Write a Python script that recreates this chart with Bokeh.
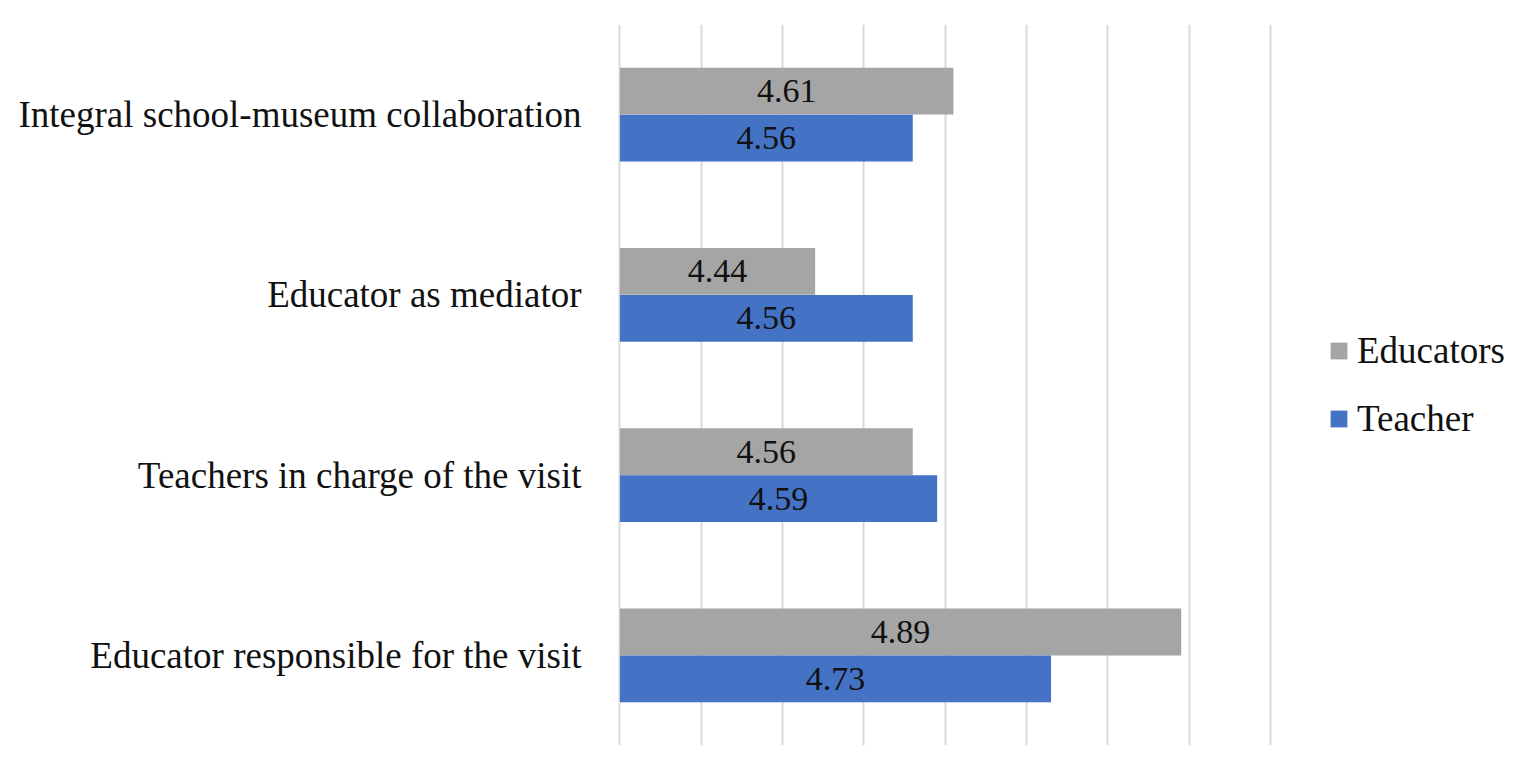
from bokeh.plotting import figure
from bokeh.models import ColumnDataSource, FixedTicker, Legend, LegendItem, FactorRange, Range1d
from bokeh.transform import dodge
from bokeh.core.properties import value
from bokeh.embed import file_html
from bokeh.resources import INLINE

categories = ["Integral school-museum collaboration", "Educator as mediator",
              "Teachers in charge of the visit", "Educator responsible for the visit"]
educators = [4.61, 4.44, 4.56, 4.89]
teacher = [4.56, 4.56, 4.59, 4.73]
x_start = 4.2
grid_ticks = [4.2, 4.3, 4.4, 4.5, 4.6, 4.7, 4.8, 4.9, 5.0]

FONT = "Liberation Serif"
GRAY = "#A5A5A5"
BLUE = "#4472C4"

src = ColumnDataSource(dict(
    cat=categories,
    edu=educators,
    tea=teacher,
    edu_mid=[(x_start + v) / 2 for v in educators],
    tea_mid=[(x_start + v) / 2 for v in teacher],
    edu_txt=[f"{v:.2f}" for v in educators],
    tea_txt=[f"{v:.2f}" for v in teacher],
))

# frame extends past the last grid line (5.0) to host the legend on the right
p = figure(frame_width=898, frame_height=721, output_backend="svg", toolbar_location=None,
           y_range=FactorRange(*list(reversed(categories)), range_padding=0),
           x_range=Range1d(4.197, 5.301),
           min_border_left=617, min_border_right=0, min_border_top=24, min_border_bottom=20)
p.outline_line_color = None

bh = 0.26
r1 = p.hbar(y=dodge("cat", bh / 2, range=p.y_range), left=x_start, right="edu", height=bh,
            source=src, fill_color=GRAY, line_color=None)
r2 = p.hbar(y=dodge("cat", -bh / 2, range=p.y_range), left=x_start, right="tea", height=bh,
            source=src, fill_color=BLUE, line_color=None)

p.text(x="edu_mid", y=dodge("cat", bh / 2, range=p.y_range), text="edu_txt", source=src,
       text_align="center", text_baseline="middle", text_font=value(FONT),
       text_font_size="34px", text_color="#111111")
p.text(x="tea_mid", y=dodge("cat", -bh / 2, range=p.y_range), text="tea_txt", source=src,
       text_align="center", text_baseline="middle", text_font=value(FONT),
       text_font_size="34px", text_color="#111111")

p.xaxis.visible = False
p.xaxis.ticker = FixedTicker(ticks=grid_ticks)
p.xgrid.ticker = FixedTicker(ticks=grid_ticks)
p.xgrid.grid_line_color = "#D9D9D9"
p.xgrid.grid_line_width = 2
p.ygrid.visible = False

p.yaxis.axis_line_color = None
p.yaxis.major_tick_line_color = None
p.yaxis.minor_tick_line_color = None
p.yaxis.major_tick_out = 0
p.yaxis.major_tick_in = 0
p.yaxis.major_label_text_font = FONT
p.yaxis.major_label_text_font_size = "37px"
p.yaxis.major_label_text_color = "#111111"
p.yaxis.major_label_standoff = 36

legend = Legend(items=[LegendItem(label="Educators", renderers=[r1]),
                       LegendItem(label="Teacher", renderers=[r2])],
                location=(711, 305), border_line_color=None, background_fill_alpha=0,
                label_text_font=FONT, label_text_font_size="37px", label_text_color="#111111",
                glyph_width=21, glyph_height=21, spacing=25, margin=0, padding=10,
                label_standoff=8)
p.add_layout(legend)

open("out.html", "w").write(file_html(p, INLINE))
